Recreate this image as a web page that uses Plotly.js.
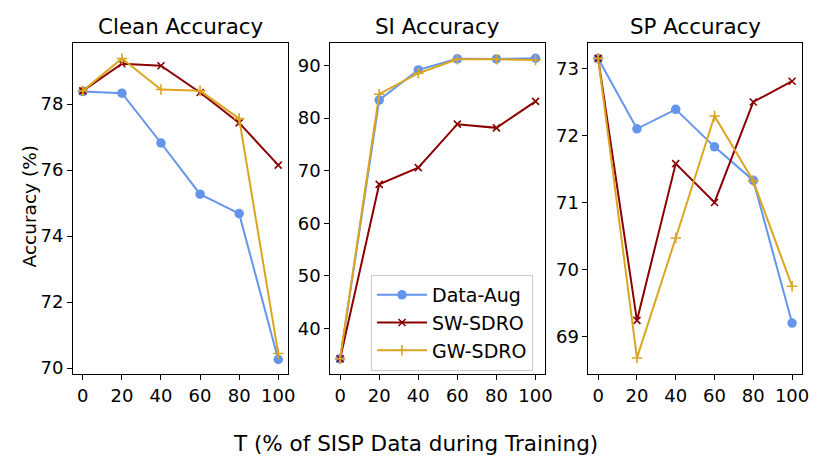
<!DOCTYPE html>
<html>
<head>
<meta charset="utf-8">
<script src="https://cdn.plot.ly/plotly-3.0.1.min.js"></script>
<style>
  html, body { margin: 0; padding: 0; background: #fff; }
  #chart { width: 830px; height: 461px; }
</style>
</head>
<body>
<div id="chart"></div>
<script>
// T values, shared by all three panels
var tValues = [0, 20, 40, 60, 80, 100];
var tickVals = [0, 20, 40, 60, 80, 100];

var panelTitles = ["Clean Accuracy", "SI Accuracy", "SP Accuracy"];
var seriesNames = ["Data-Aug", "SW-SDRO", "GW-SDRO"];

// Clean accuracy
var cleanDataAug = [78.38, 78.33, 76.82, 75.27, 74.68, 70.26];
var cleanSW = [78.4, 79.22, 79.16, 78.35, 77.43, 76.15];
var cleanGW = [78.4, 79.38, 78.44, 78.4, 77.56, 70.44];

// SI accuracy
var siDataAug = [34.2, 83.45, 89.18, 91.3, 91.28, 91.4];
var siSW = [34.2, 67.4, 70.58, 78.85, 78.15, 83.2];
var siGW = [34.2, 84.55, 88.55, 91.22, 91.2, 91.08];

// SP accuracy
var spDataAug = [73.15, 72.1, 72.39, 71.83, 71.33, 69.2];
var spSW = [73.15, 69.24, 71.58, 71.0, 72.5, 72.81];
var spGW = [73.15, 68.68, 70.47, 72.29, 71.32, 69.75];

var colors = ["#6495ED", "#8B0000", "#DAA520"];
var symbols = ["circle", "x-thin", "cross-thin"];
var sizes = [9.5, 7, 7.5];

var panels = [
  [cleanDataAug, cleanSW, cleanGW],
  [siDataAug, siSW, siGW],
  [spDataAug, spSW, spGW]
];

var data = [];
panels.forEach(function (series, p) {
  series.forEach(function (vals, s) {
    data.push({
      type: "scatter",
      mode: "lines+markers",
      x: tValues,
      y: vals,
      name: seriesNames[s],
      legendgroup: seriesNames[s],
      showlegend: p === 1,
      xaxis: p === 0 ? "x" : "x" + (p + 1),
      yaxis: p === 0 ? "y" : "y" + (p + 1),
      line: { color: colors[s], width: 2 },
      marker: {
        symbol: symbols[s],
        size: sizes[s],
        color: colors[s],
        line: { color: colors[s], width: s === 0 ? 0 : 1.6 }
      }
    });
  });
});

var tickFont = { family: "DejaVu Sans", size: 18, color: "#000" };

function xAxis(domain, anchor) {
  return {
    domain: domain, anchor: anchor,
    range: [-5, 105],
    tickvals: tickVals,
    ticks: "outside", ticklen: 5, tickcolor: "#000", tickwidth: 1,
    showline: true, mirror: true, linecolor: "#000", linewidth: 1,
    showgrid: false, zeroline: false,
    tickfont: tickFont
  };
}
function yAxis(domain, anchor, range, dtick) {
  return {
    domain: domain, anchor: anchor,
    range: range, dtick: dtick,
    ticks: "outside", ticklen: 5, tickcolor: "#000", tickwidth: 1,
    showline: true, mirror: true, linecolor: "#000", linewidth: 1,
    showgrid: false, zeroline: false,
    tickfont: tickFont
  };
}

var yDom = [0.1887, 0.9067];
var xDoms = [[0.088, 0.347], [0.398, 0.657], [0.709, 0.966]];

function panelTitle(i) {
  return {
    text: panelTitles[i], xref: "paper", yref: "paper",
    x: (xDoms[i][0] + xDoms[i][1]) / 2, y: 0.911,
    xanchor: "center", yanchor: "bottom", showarrow: false,
    font: { family: "DejaVu Sans", size: 21.4, color: "#000" }
  };
}

var layout = {
  width: 830, height: 461,
  margin: { t: 0, r: 0, l: 0, b: 0 },
  paper_bgcolor: "#fff", plot_bgcolor: "#fff",
  font: { family: "DejaVu Sans", color: "#000" },
  xaxis: xAxis(xDoms[0], "y"),
  yaxis: yAxis(yDom, "x", [69.82, 79.85], 2),
  xaxis2: xAxis(xDoms[1], "y2"),
  yaxis2: yAxis(yDom, "x2", [31.3, 94.3], 10),
  xaxis3: xAxis(xDoms[2], "y3"),
  yaxis3: yAxis(yDom, "x3", [68.44, 73.38], 1),
  legend: {
    x: 0.447, y: 0.4035, xanchor: "left", yanchor: "top",
    bgcolor: "#fff", bordercolor: "#cccccc", borderwidth: 1,
    font: { family: "DejaVu Sans", size: 19, color: "#000" },
    traceorder: "grouped", tracegroupgap: 0, itemwidth: 50
  },
  annotations: [
    panelTitle(0), panelTitle(1), panelTitle(2),
    { text: "T (% of SISP Data during Training)", xref: "paper", yref: "paper", x: 0.5, y: 0.039, xanchor: "center", yanchor: "middle", showarrow: false, font: { family: "DejaVu Sans", size: 21.5, color: "#000" } },
    { text: "Accuracy (%)", xref: "paper", yref: "paper", x: 0.036, y: 0.552, xanchor: "center", yanchor: "middle", textangle: -90, showarrow: false, font: { family: "DejaVu Sans", size: 18.5, color: "#000" } }
  ]
};

Plotly.newPlot("chart", data, layout, { displayModeBar: false, staticPlot: true });
</script>
</body>
</html>
